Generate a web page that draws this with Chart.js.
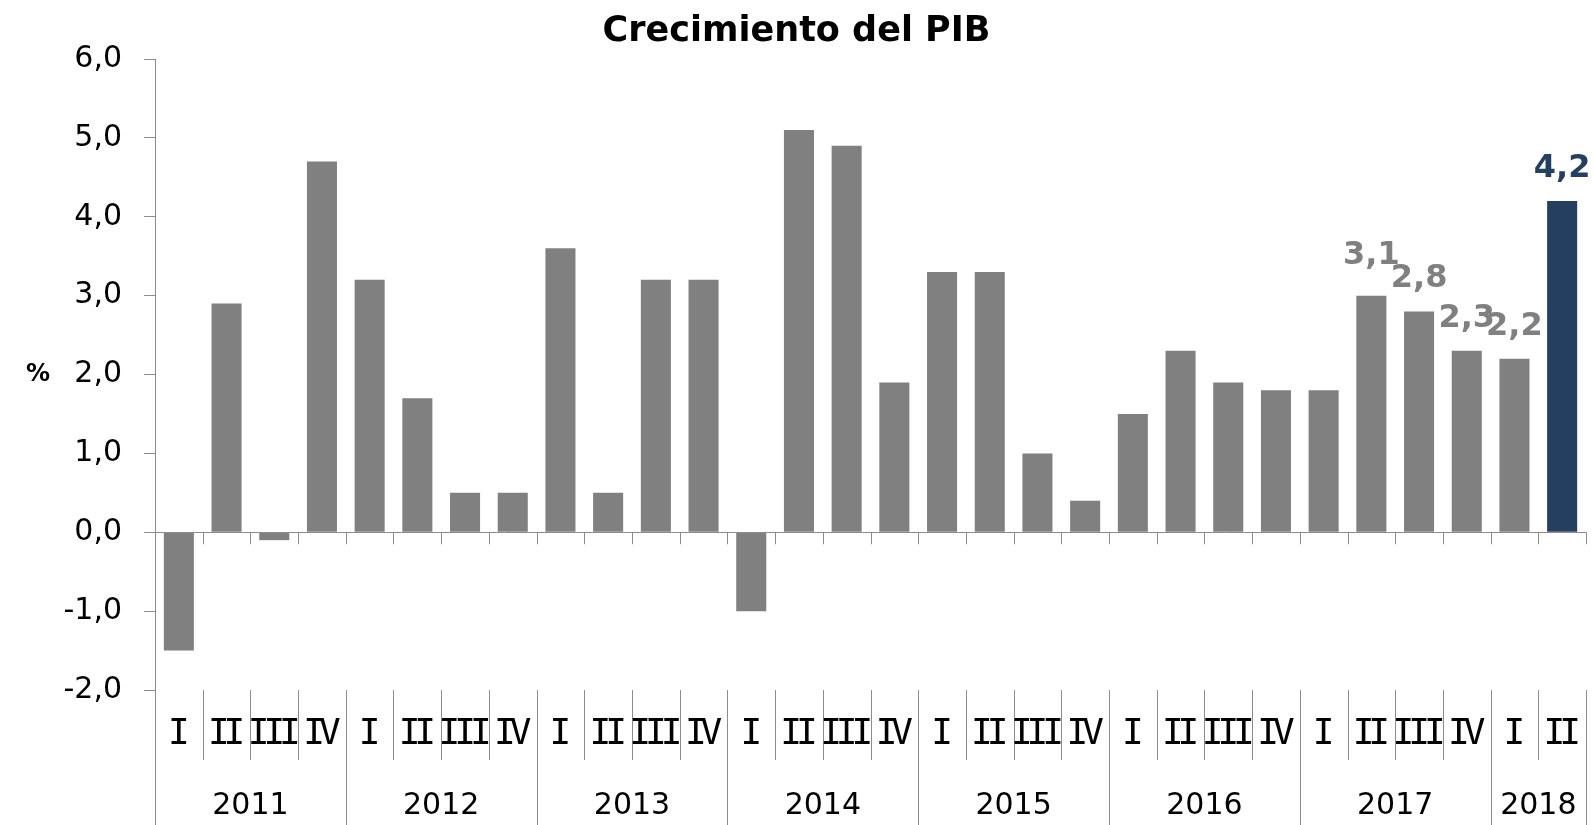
<!DOCTYPE html>
<html>
<head>
<meta charset="utf-8">
<title>Crecimiento del PIB</title>
<script src="https://cdn.jsdelivr.net/npm/chart.js@4.4.0/dist/chart.umd.min.js"></script>
<style>
  html, body { margin: 0; padding: 0; background: #fff; }
  #wrap { width: 1593px; height: 825px; }
</style>
</head>
<body>
<div id="wrap"><canvas id="pib"></canvas></div>
<script>
// Data
const years = ['2011', '2012', '2013', '2014', '2015', '2016', '2017', '2018'];
const quartersPerYear = [4, 4, 4, 4, 4, 4, 4, 2];
const quarterNames = ['I', 'II', 'III', 'IV'];
const growth = [
  -1.5, 2.9, -0.1, 4.7,
  3.2, 1.7, 0.5, 0.5,
  3.6, 0.5, 3.2, 3.2,
  -1.0, 5.1, 4.9, 1.9,
  3.3, 3.3, 1.0, 0.4,
  1.5, 2.3, 1.9, 1.8,
  1.8, 3.0, 2.8, 2.3,
  2.2, 4.2
];
// printed labels (only the last five quarters carry one)
const shownValues = [
  null, null, null, null, null, null, null, null, null, null,
  null, null, null, null, null, null, null, null, null, null,
  null, null, null, null, null, 3.1, 2.8, 2.3, 2.2, 4.2
];
const yTicks = [-2, -1, 0, 1, 2, 3, 4, 5, 6];

const GRAY = '#808080';
const NAVY = '#243f60';
const LINE = '#8c8c8c';

// category labels built from the year/quarter lists
const categories = [];
const yearOfCat = [];
years.forEach((y, i) => {
  for (let q = 0; q < quartersPerYear[i]; q++) {
    categories.push(quarterNames[q]);
    yearOfCat.push(y);
  }
});

const fmt = v => v.toFixed(1).replace('.', ',');

const extras = {
  id: 'extras',
  afterDraw(chart) {
    const ctx = chart.ctx;
    const xs = chart.scales.x;
    const ys = chart.scales.y;
    const area = chart.chartArea;
    const H = chart.height;
    const half = (xs.getPixelForValue(1) - xs.getPixelForValue(0)) / 2;
    const y0 = ys.getPixelForValue(0);

    ctx.save();
    ctx.strokeStyle = LINE;
    ctx.lineWidth = 1;

    // zero line
    ctx.beginPath();
    ctx.moveTo(area.left - 11, Math.round(y0) + 0.5);
    ctx.lineTo(area.right, Math.round(y0) + 0.5);
    ctx.stroke();

    // small ticks below the zero line, at every category boundary
    for (let i = 0; i <= categories.length; i++) {
      const x = Math.round(xs.getPixelForValue(i) - half) + 0.5;
      ctx.beginPath();
      ctx.moveTo(x, y0);
      ctx.lineTo(x, y0 + 12);
      ctx.stroke();
    }

    // separators in the label band
    for (let i = 0; i <= categories.length; i++) {
      const x = Math.round(xs.getPixelForValue(i) - half) + 0.5;
      const yearEdge = i === 0 || i === categories.length || yearOfCat[i] !== yearOfCat[i - 1];
      ctx.beginPath();
      ctx.moveTo(x, area.bottom);
      ctx.lineTo(x, yearEdge ? H : area.bottom + 70);
      ctx.stroke();
    }

    // quarter labels
    ctx.fillStyle = '#000';
    ctx.textAlign = 'center';
    ctx.textBaseline = 'middle';
    ctx.font = '36px "DejaVu Sans Mono"';
    if ('letterSpacing' in ctx) ctx.letterSpacing = '-6px';
    categories.forEach((q, i) => {
      ctx.fillText(q, xs.getPixelForValue(i) - 3, area.bottom + 45);
    });
    if ('letterSpacing' in ctx) ctx.letterSpacing = '0px';

    // year labels
    ctx.font = '30px "DejaVu Sans"';
    let start = 0;
    years.forEach((y, i) => {
      const n = quartersPerYear[i];
      const xc = (xs.getPixelForValue(start) + xs.getPixelForValue(start + n - 1)) / 2;
      ctx.fillText(y, xc, area.bottom + 116);
      start += n;
    });

    // value labels
    ctx.font = 'bold 32px "DejaVu Sans"';
    ctx.textBaseline = 'alphabetic';
    shownValues.forEach((v, i) => {
      if (v === null) return;
      ctx.fillStyle = i === shownValues.length - 1 ? NAVY : GRAY;
      ctx.fillText(fmt(v), xs.getPixelForValue(i), ys.getPixelForValue(v) - 24);
    });

    // unit
    ctx.fillStyle = '#000';
    ctx.font = 'bold 24px "DejaVu Sans"';
    ctx.textBaseline = 'middle';
    ctx.fillText('%', 38, ys.getPixelForValue(2));

    // title
    ctx.font = 'bold 35px "DejaVu Sans"';
    ctx.fillText('Crecimiento del PIB', chart.width / 2, 32);
    ctx.restore();
  }
};

new Chart(document.getElementById('pib'), {
  type: 'bar',
  data: {
    labels: categories,
    datasets: [{
      data: growth,
      backgroundColor: growth.map((v, i) => i === growth.length - 1 ? NAVY : GRAY),
      borderWidth: 0,
      barPercentage: 0.63,
      categoryPercentage: 1
    }]
  },
  options: {
    responsive: true,
    maintainAspectRatio: false,
    animation: false,
    layout: { padding: { top: 59, right: 7, bottom: 135, left: 0 } },
    plugins: {
      legend: { display: false },
      tooltip: { enabled: false },
      title: { display: false }
    },
    scales: {
      x: { display: false, offset: true },
      y: {
        min: -2,
        max: 6,
        afterFit: s => { s.width = 155; },
        afterBuildTicks: s => { s.ticks = yTicks.map(v => ({ value: v })); },
        ticks: {
          padding: 22,
          color: '#000',
          font: { family: 'DejaVu Sans', size: 30 },
          callback: v => fmt(v)
        },
        grid: { drawOnChartArea: false, drawTicks: true, tickLength: 11, color: LINE },
        border: { color: LINE }
      }
    }
  },
  plugins: [extras]
});
</script>
</body>
</html>
